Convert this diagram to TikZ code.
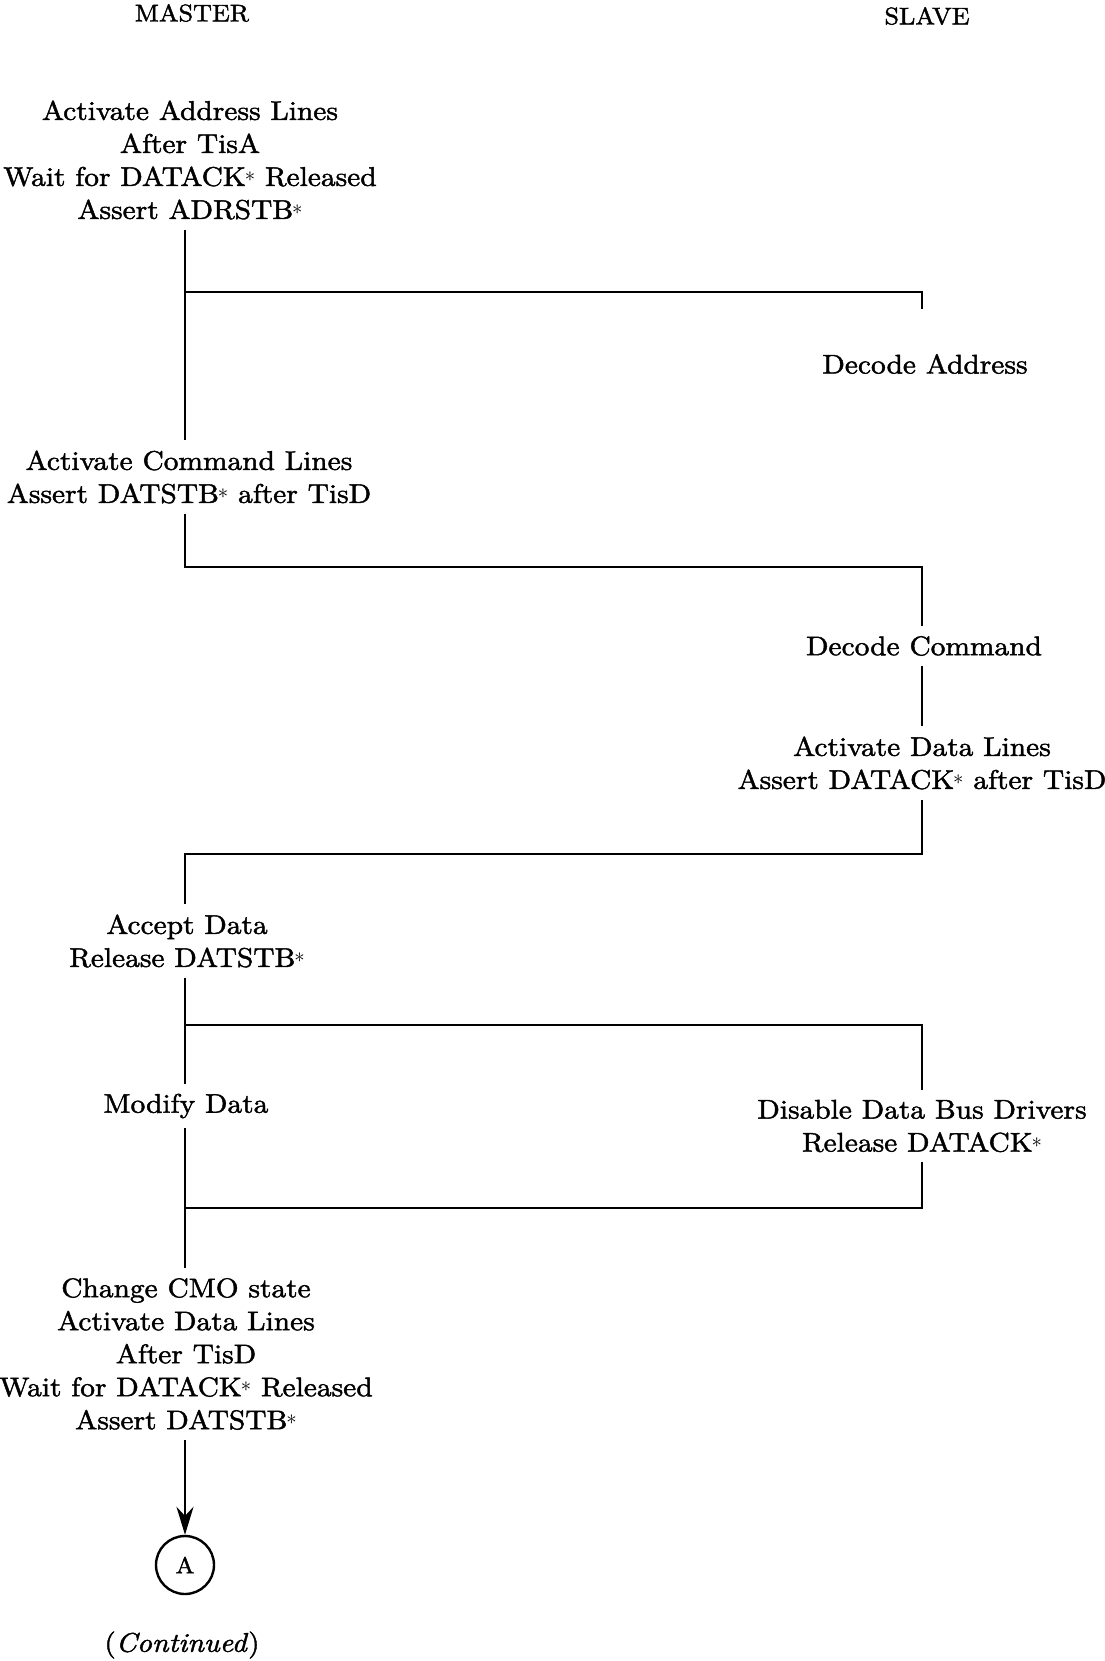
\documentclass[tikz,border=0pt]{standalone}
\usepackage{fontspec}
\setmainfont{lmroman10-regular.otf}[ItalicFont=lmroman10-italic.otf, FakeStretch=1.09, FakeBold=1.6]
\usetikzlibrary{arrows.meta}
\newcommand\sstar{\hspace{-1pt}\raisebox{4.5pt}{\fontsize{20}{20}\selectfont$\ast$}}
\begin{document}
\begin{tikzpicture}[x=1pt,y=1pt,
  txt/.style={align=center, font=\fontsize{27}{33}\selectfont, inner xsep=2pt, inner ysep=10pt},
  ttl/.style={font=\fontsize{24}{28}\selectfont, inner sep=2pt},
  conn/.style={line width=2.6pt},
  endcircle/.style={circle, draw, line width=2.4pt, minimum size=58pt, inner sep=0pt, font=\fontsize{23}{27}\selectfont}
]
\useasboundingbox (0,0) rectangle (1104,-1661);

\coordinate (mx) at (185,0);
\coordinate (sx) at (922,0);

\node[ttl] (mt) at (192,-13) {MASTER};
\node[ttl] (st) at (927,-16) {SLAVE};

\node[txt] (m1) at (190,-160) {Activate Address Lines\\After TisA\\Wait for DATACK\sstar{} Released\\Assert ADRSTB\sstar};
\node[txt] (s1) at (925,-364) {Decode Address};
\node[txt] (m2) at (189,-477) {Activate Command Lines\\Assert DATSTB\sstar{} after TisD};
\node[txt] (s2) at (924,-646) {Decode Command};
\node[txt] (s3) at (922,-763) {Activate Data Lines\\Assert DATACK\sstar{} after TisD};
\node[txt] (m3) at (187,-941) {Accept Data\\Release DATSTB\sstar};
\node[txt] (m4) at (186,-1106) {Modify Data};
\node[txt] (s4) at (922,-1126) {Disable Data Bus Drivers\\Release DATACK\sstar};
\node[txt] (m5) at (186,-1354) {Change CMO state\\Activate Data Lines\\After TisD\\Wait for DATACK\sstar{} Released\\Assert DATSTB\sstar};
\node[endcircle] (A) at (185,-1565) {A};
\node[txt] (cont) at (182,-1645) {(\textit{Continued})};

\coordinate (j1) at (185,-292);
\coordinate (j2) at (922,-567);
\coordinate (j3) at (185,-854);
\coordinate (j4) at (185,-1025);
\coordinate (j5) at (185,-1208);

\draw[conn] (m1.south -| mx) -- (m2.north -| mx);
\draw[conn, shorten >=35pt] (j1) -| (s1.north -| sx);
\draw[conn] (m2.south -| mx) |- (j2) -- (s2.north -| sx);
\draw[conn] (s2.south -| sx) -- (s3.north -| sx);
\draw[conn] (s3.south -| sx) |- (j3) -- (m3.north -| mx);
\draw[conn] (m3.south -| mx) -- (m4.north -| mx);
\draw[conn] (j4) -| (s4.north -| sx);
\draw[conn] (m4.south -| mx) -- (m5.north -| mx);
\draw[conn] (s4.south -| sx) |- (j5);
\draw[conn, -{Stealth[length=28pt,width=17pt]}] (m5.south -| mx) -- (A.north);
\end{tikzpicture}
\end{document}
